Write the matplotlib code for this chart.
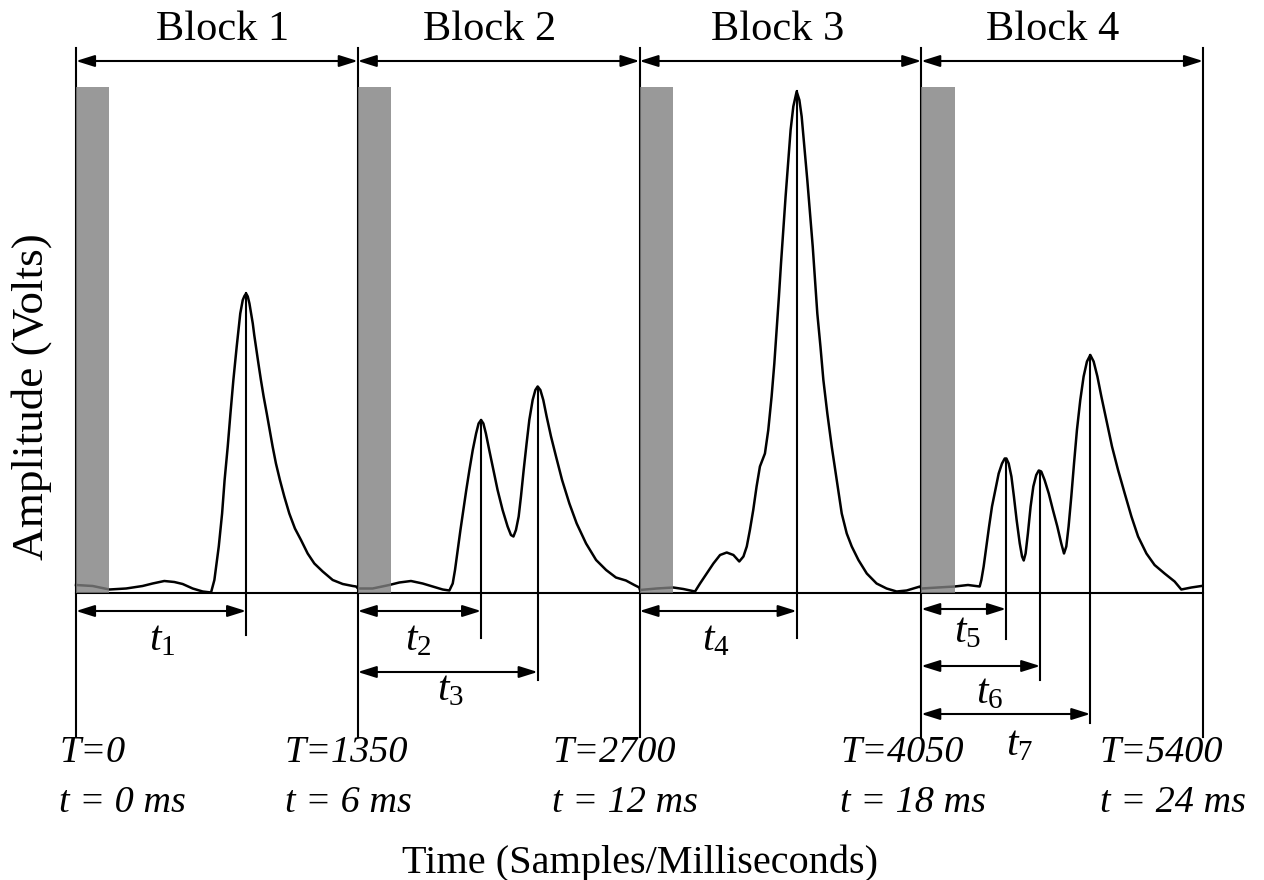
import matplotlib
matplotlib.use("Agg")
import matplotlib.pyplot as plt
from matplotlib.patches import Rectangle

plt.rcParams["font.family"] = ["Liberation Serif", "DejaVu Serif"]
plt.rcParams["mathtext.fontset"] = "custom"
plt.rcParams["mathtext.rm"] = "Liberation Serif"
plt.rcParams["mathtext.it"] = "Liberation Serif:italic"

# 信号轨迹（采样点, 幅值），按块读取
block1_samples = [0, 80, 160, 240, 319, 367, 423, 471, 511, 559, 607, 647, 663, 684, 700, 712,
                  727, 740, 754, 770, 787, 799, 807, 815, 823, 831, 839, 847, 854, 862, 874,
                  886, 899, 914, 928, 942, 958, 977, 998, 1022, 1049, 1078, 1110, 1142, 1182,
                  1230, 1278, 1326, 1342]
block1_volts = [0.016, 0.014, 0.007, 0.009, 0.014, 0.019, 0.024, 0.022, 0.018, 0.009, 0.003,
                0.001, 0.026, 0.093, 0.159, 0.226, 0.293, 0.359, 0.426, 0.493, 0.559, 0.586,
                0.594, 0.599, 0.593, 0.579, 0.559, 0.539, 0.516, 0.493, 0.459, 0.426, 0.393,
                0.359, 0.326, 0.293, 0.259, 0.226, 0.193, 0.159, 0.129, 0.106, 0.079, 0.059,
                0.043, 0.026, 0.018, 0.014, 0.013]

block2_samples = [1351, 1421, 1501, 1549, 1605, 1661, 1709, 1757, 1789, 1805, 1816, 1829, 1842,
                  1856, 1870, 1885, 1901, 1917, 1929, 1941, 1952, 1964, 1980, 2000, 2020, 2044,
                  2068, 2084, 2096, 2108, 2121, 2132, 2145, 2159, 2172, 2188, 2201, 2212, 2225,
                  2239, 2255, 2276, 2300, 2329, 2364, 2399, 2444, 2492, 2540, 2587, 2635, 2675,
                  2699]
block2_volts = [0.009, 0.009, 0.016, 0.021, 0.024, 0.019, 0.013, 0.007, 0.005, 0.019, 0.046,
                0.086, 0.126, 0.166, 0.206, 0.246, 0.286, 0.319, 0.339, 0.346, 0.339, 0.319,
                0.286, 0.246, 0.206, 0.166, 0.133, 0.116, 0.113, 0.126, 0.153, 0.193, 0.246,
                0.299, 0.346, 0.386, 0.406, 0.413, 0.406, 0.386, 0.353, 0.313, 0.273, 0.226,
                0.179, 0.139, 0.099, 0.066, 0.046, 0.031, 0.025, 0.016, 0.011]

block3_samples = [2702, 2782, 2862, 2910, 2966, 2990, 3022, 3054, 3086, 3118, 3150, 3178, 3198,
                  3214, 3229, 3245, 3261, 3277, 3301, 3317, 3333, 3346, 3357, 3368, 3378, 3389,
                  3400, 3412, 3424, 3437, 3453, 3466, 3477, 3490, 3504, 3517, 3530, 3541, 3552,
                  3567, 3581, 3600, 3621, 3645, 3669, 3693, 3717, 3749, 3789, 3836, 3884, 3932,
                  3980, 4044]
block3_volts = [0.006, 0.009, 0.011, 0.008, 0.003, 0.019, 0.039, 0.059, 0.076, 0.081, 0.076,
                0.063, 0.073, 0.093, 0.126, 0.166, 0.213, 0.253, 0.279, 0.326, 0.393, 0.459,
                0.526, 0.593, 0.659, 0.726, 0.793, 0.859, 0.926, 0.973, 1.003, 0.986, 0.953,
                0.893, 0.826, 0.759, 0.693, 0.626, 0.559, 0.493, 0.426, 0.359, 0.293, 0.226,
                0.159, 0.119, 0.093, 0.066, 0.039, 0.019, 0.009, 0.003, 0.005, 0.013]

block4_samples = [4050, 4130, 4210, 4274, 4330, 4338, 4349, 4362, 4375, 4389, 4405, 4421, 4437,
                  4450, 4458, 4469, 4482, 4494, 4507, 4522, 4533, 4541, 4550, 4561, 4574, 4587,
                  4601, 4613, 4625, 4641, 4661, 4681, 4702, 4721, 4734, 4745, 4756, 4769, 4782,
                  4796, 4812, 4828, 4844, 4860, 4876, 4894, 4913, 4937, 4964, 4993, 5025, 5057,
                  5089, 5129, 5168, 5216, 5264, 5296, 5344, 5392]
block4_volts = [0.009, 0.011, 0.013, 0.016, 0.013, 0.026, 0.053, 0.093, 0.133, 0.173, 0.206,
                0.239, 0.259, 0.269, 0.269, 0.259, 0.233, 0.193, 0.146, 0.099, 0.073, 0.065,
                0.079, 0.119, 0.173, 0.213, 0.236, 0.245, 0.243, 0.226, 0.199, 0.166, 0.133,
                0.099, 0.079, 0.093, 0.133, 0.193, 0.259, 0.326, 0.386, 0.433, 0.463, 0.476,
                0.463, 0.433, 0.393, 0.346, 0.293, 0.246, 0.199, 0.153, 0.113, 0.079, 0.056,
                0.039, 0.023, 0.007, 0.011, 0.014]

trace_samples = block1_samples + block2_samples + block3_samples + block4_samples
trace_volts = block1_volts + block2_volts + block3_volts + block4_volts

# 分块边界与标签
block_edges = [0, 1350, 2700, 4050, 5400]
block_names = ["Block 1", "Block 2", "Block 3", "Block 4"]
edge_samples_text = ["T=0", "T=1350", "T=2700", "T=4050", "T=5400"]
edge_ms_text = ["t = 0 ms", "t = 6 ms", "t = 12 ms", "t = 18 ms", "t = 24 ms"]

# 峰值时间 t1..t7（采样点）及所属块
peak_names = ["1", "2", "3", "4", "5", "6", "7"]
peak_samples = [815, 1941, 2212, 3453, 4456, 4620, 4860]
peak_volts = [0.599, 0.346, 0.413, 1.003, 0.269, 0.245, 0.476]
peak_block = [0, 1, 1, 2, 3, 3, 3]

# 版式参数
arrow_y = [-0.036, -0.036, -0.158, -0.036, -0.032, -0.146, -0.242]
stem_bottom = [-0.084, -0.090, -0.174, -0.090, -0.092, -0.174, -0.260]
label_xy = [(412, -0.094), (1639, -0.094), (1792, -0.194), (3067, -0.094),
            (4274, -0.078), (4379, -0.200), (4523, -0.304)]
edge_text_x = [-81, 1001, 2281, 3661, 4906]
block_label_shift = [25, -45, -15, -45]
gate_width = 160
gate_top = 1.012

fig = plt.figure(figsize=(12.64, 8.8), dpi=100)
ax = fig.add_axes([0, 0, 1, 1])
ax.set_xlim(-364.2, 5692.3)
ax.set_ylim(-0.574, 1.186)
ax.axis("off")

lw = 1.5

# 轨迹
ax.plot(trace_samples, trace_volts, color="black", lw=1.8, zorder=3,
        solid_joinstyle="round")

# 基线
ax.plot([block_edges[0], block_edges[-1]], [0, 0], color="black", lw=lw, zorder=2)

arrow_kw = dict(arrowstyle="<|-|>,head_length=0.7,head_width=0.22", color="black",
                lw=lw, shrinkA=0, shrinkB=0, mutation_scale=16)

for i, x in enumerate(block_edges):
    ax.plot([x, x], [-0.288, 1.09], color="black", lw=lw, zorder=2)
    ax.text(edge_text_x[i], -0.338, edge_samples_text[i], fontsize=27.5, style="italic",
            ha="left", va="baseline")
    ax.text(edge_text_x[i], -0.438, edge_ms_text[i], fontsize=27.5, style="italic",
            ha="left", va="baseline")

for i, name in enumerate(block_names):
    x0, x1 = block_edges[i], block_edges[i + 1]
    ax.annotate("", xy=(x1, 1.064), xytext=(x0, 1.064), arrowprops=arrow_kw)
    ax.text((x0 + x1) / 2 + block_label_shift[i], 1.106, name, fontsize=30.5,
            ha="center", va="baseline")
    # 灰色门控区
    ax.add_patch(Rectangle((x0, 0), gate_width, gate_top, facecolor="#808080",
                           alpha=0.8, edgecolor="none", zorder=4))

for i, name in enumerate(peak_names):
    x = peak_samples[i]
    x0 = block_edges[peak_block[i]]
    ax.plot([x, x], [stem_bottom[i], peak_volts[i]], color="black", lw=lw, zorder=2)
    ax.annotate("", xy=(x, arrow_y[i]), xytext=(x0, arrow_y[i]), arrowprops=arrow_kw)
    ax.text(label_xy[i][0], label_xy[i][1], r"$t_{\mathit{%s}}$" % name, fontsize=30,
            ha="center", va="center")

ax.text(2700, -0.56, "Time (Samples/Milliseconds)", fontsize=29,
        ha="center", va="baseline")
ax.text(-212, 0.392, "Amplitude (Volts)", fontsize=32.5, rotation=90,
        ha="center", va="center")

fig.savefig("out.png", dpi=100)
